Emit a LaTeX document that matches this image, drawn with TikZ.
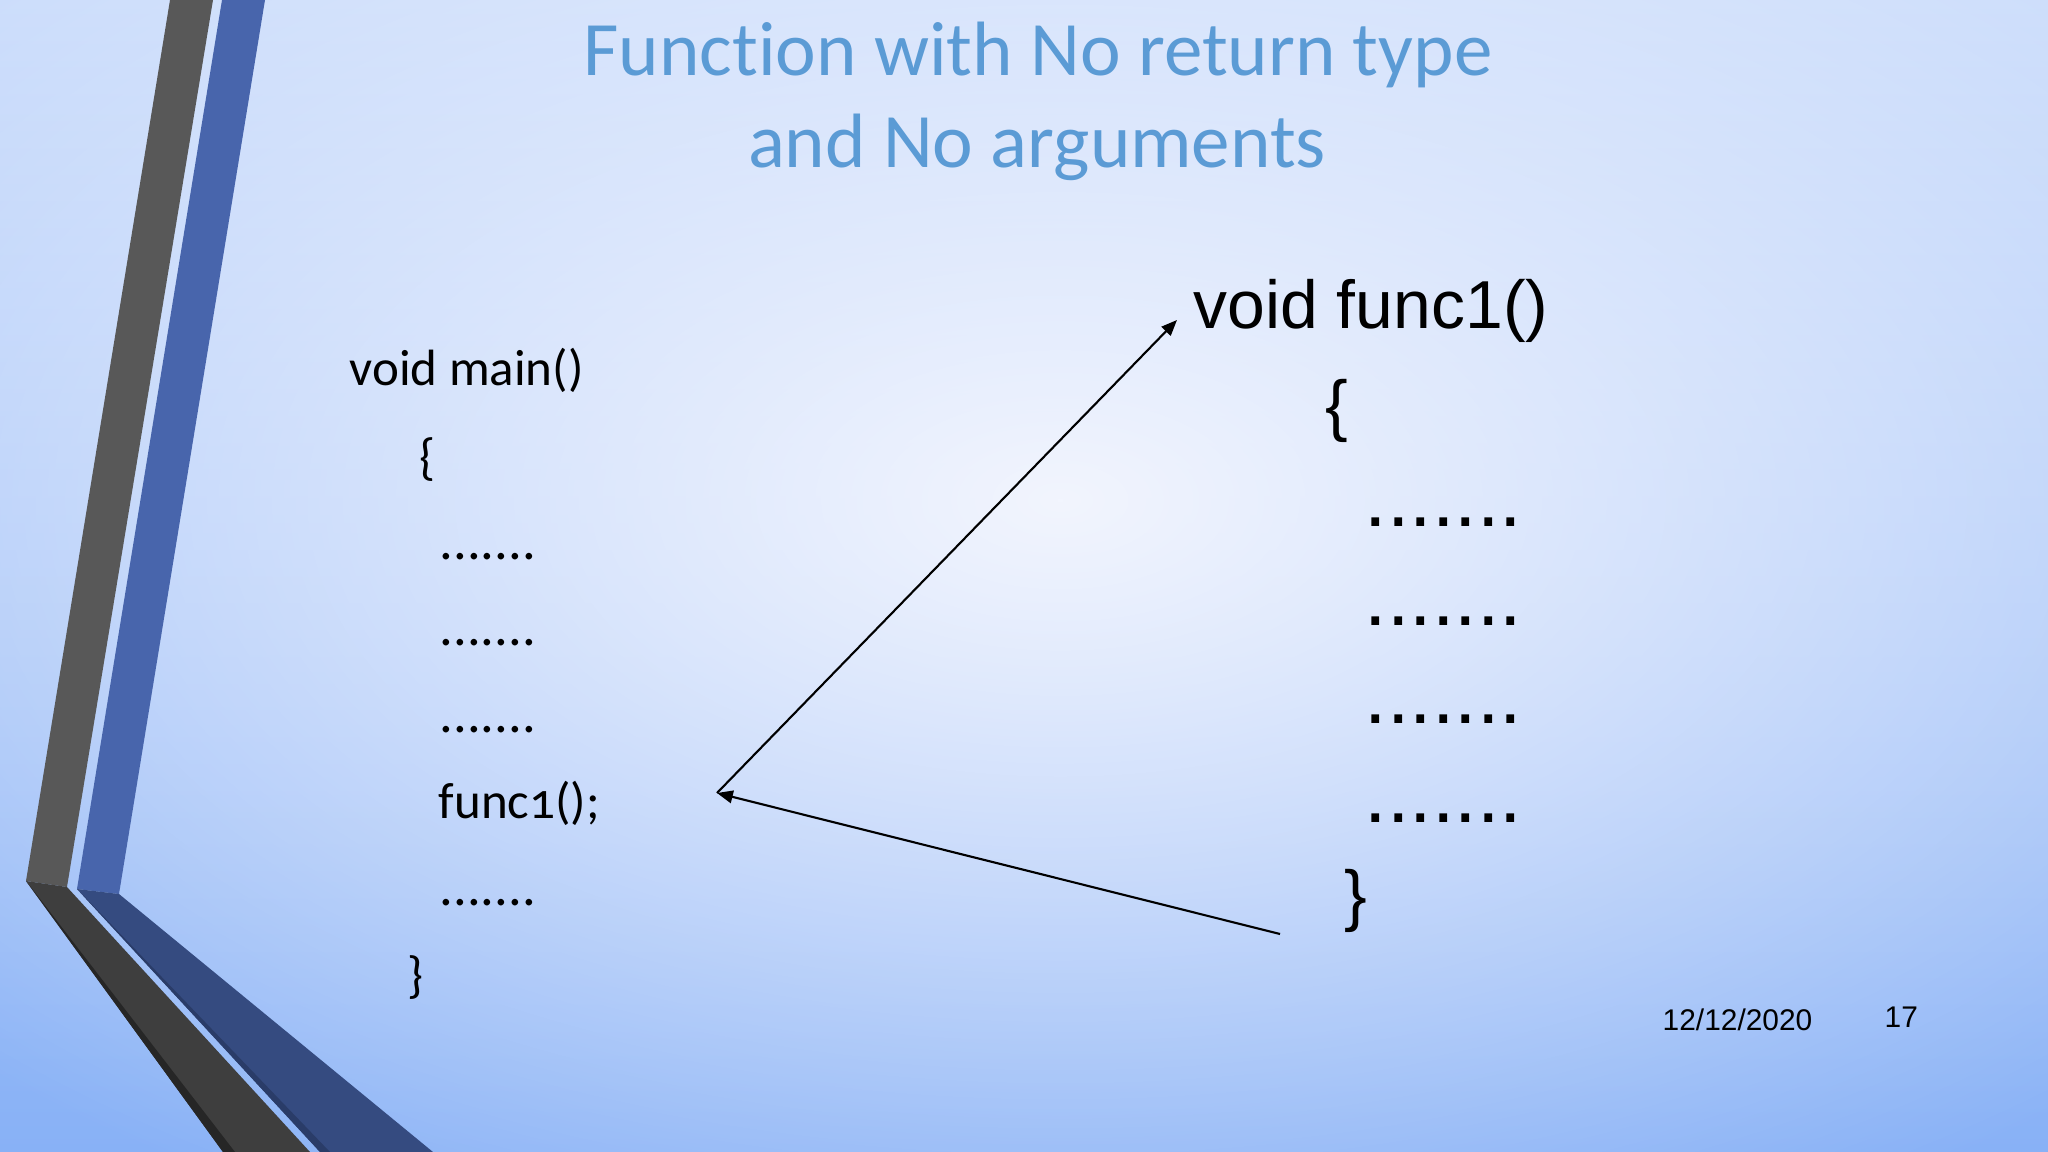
\documentclass[tikz,border=0pt]{standalone}
\usepackage{fontspec}
\setmainfont{Carlito}[Numbers=OldStyle, Ligatures=NoCommon]
\newfontfamily\arialfont{Liberation Sans}
\usetikzlibrary{arrows.meta,fadings}
\definecolor{slideTitle}{HTML}{5B9BD5}
\definecolor{bgTop}{HTML}{CADCFB}
\definecolor{bgMid}{HTML}{DCE6FD}
\definecolor{bgBottom}{HTML}{88B1F6}
\definecolor{bgGlow}{HTML}{F2F5FE}
\definecolor{bandGray}{HTML}{585858}
\definecolor{bandGrayDark}{HTML}{3E3E3E}
\definecolor{bandGrayEdge}{HTML}{262626}
\definecolor{bandBlue}{HTML}{4865AC}
\definecolor{bandBlueDark}{HTML}{354B80}
\definecolor{bandBlueEdge}{HTML}{2A3C68}
\tikzfading[name=slideglow, inner color=transparent!0, outer color=transparent!100]

\begin{document}
\begin{tikzpicture}[x=0.01cm, y=-0.01cm,
    slidetitle/.style={anchor=base, inner sep=0pt, text=slideTitle, font=\fontsize{21.9}{26}\selectfont},
    maincode/.style={anchor=base west, inner sep=0pt, font=\fontsize{14.5}{17}\selectfont},
    maindots/.style={anchor=base west, inner sep=0pt, font=\fontsize{15.5}{19}\selectfont},
    funccode/.style={anchor=base west, inner sep=0pt, font=\arialfont\fontsize{19.3}{23}\selectfont},
    funcdots/.style={anchor=base west, inner sep=0pt, font=\arialfont\fontsize{23}{27}\selectfont},
    footer/.style={anchor=base west, inner sep=0pt, font=\arialfont\fontsize{8.5}{10}\selectfont},
    callarrow/.style={-{Triangle[length=4.5pt,width=3.6pt]}, line width=0.6pt}
  ]
  \useasboundingbox (0,0) rectangle (2048,1152);

  % background
  \shade[top color=bgTop, middle color=bgMid, bottom color=bgBottom] (0,0) rectangle (2048,1152);
  \fill[bgGlow, path fading=slideglow] (1060,500) ellipse (1500 and 820);

  % left bands
  \fill[bandGray] (170,0) -- (213,0) -- (67,887) -- (26,881) -- cycle;
  \fill[bandBlue] (222,0) -- (265,0) -- (119,894) -- (77,889) -- cycle;
  \fill[bandGrayDark] (26,881) -- (67,887) -- (310,1152) -- (223,1152) -- cycle;
  \fill[bandGrayEdge] (26,881) -- (30,886) -- (235,1152) -- (223,1152) -- cycle;
  \fill[bandBlueDark] (77,889) -- (119,894) -- (433,1152) -- (320,1152) -- cycle;
  \fill[bandBlueEdge] (77,889) -- (81,893) -- (330,1152) -- (320,1152) -- cycle;

  % title
  \node[slidetitle] (title1) at (1038,76) {Function with No return type};
  \node[slidetitle] (title2) at (1037,168) {and No arguments};

  % main
  \node[maincode] (mainhead) at (349,386) {void main()};
  \node[inner sep=0pt, font=\fontsize{14.5}{17}\selectfont] (mainopen) at (428,460) {\{};
  \node[maindots] (mdots1) at (439,560) {.......};
  \node[maindots] (mdots2) at (439,646) {.......};
  \node[maindots] (mdots3) at (439,732) {.......};
  \node[maincode] (mcall) at (438,818) {func1();};
  \node[maindots] (mdots4) at (439,905) {.......};
  \node[inner sep=0pt, font=\fontsize{14.5}{17}\selectfont] (mainclose) at (416,978) {\}};

  % func1
  \node[funccode] (funchead) at (1193,329) {void func1()};
  \node[inner sep=0pt, font=\arialfont\fontsize{19.3}{23}\selectfont] (funcopen) at (1337,411) {\{};
  \node[funcdots] (fdots1) at (1364,527) {.......};
  \node[funcdots] (fdots2) at (1364,625) {.......};
  \node[funcdots] (fdots3) at (1364,723) {.......};
  \node[funcdots] (fdots4) at (1364,822) {.......};
  \node[inner sep=0pt, font=\arialfont\fontsize{19.3}{23}\selectfont] (funcclose) at (1356,901) {\}};

  % call and return
  \coordinate (callpt) at (717,793);
  \coordinate (entrypt) at (1177,320);
  \coordinate (returnpt) at (1280,934);
  \draw[callarrow] (callpt) -- (entrypt);
  \draw[callarrow] (returnpt) -- (callpt);

  % footer
  \node[footer] (date) at (1662,1030) {12/12/2020};
  \node[footer] (slideno) at (1884,1027) {17};
\end{tikzpicture}
\end{document}
